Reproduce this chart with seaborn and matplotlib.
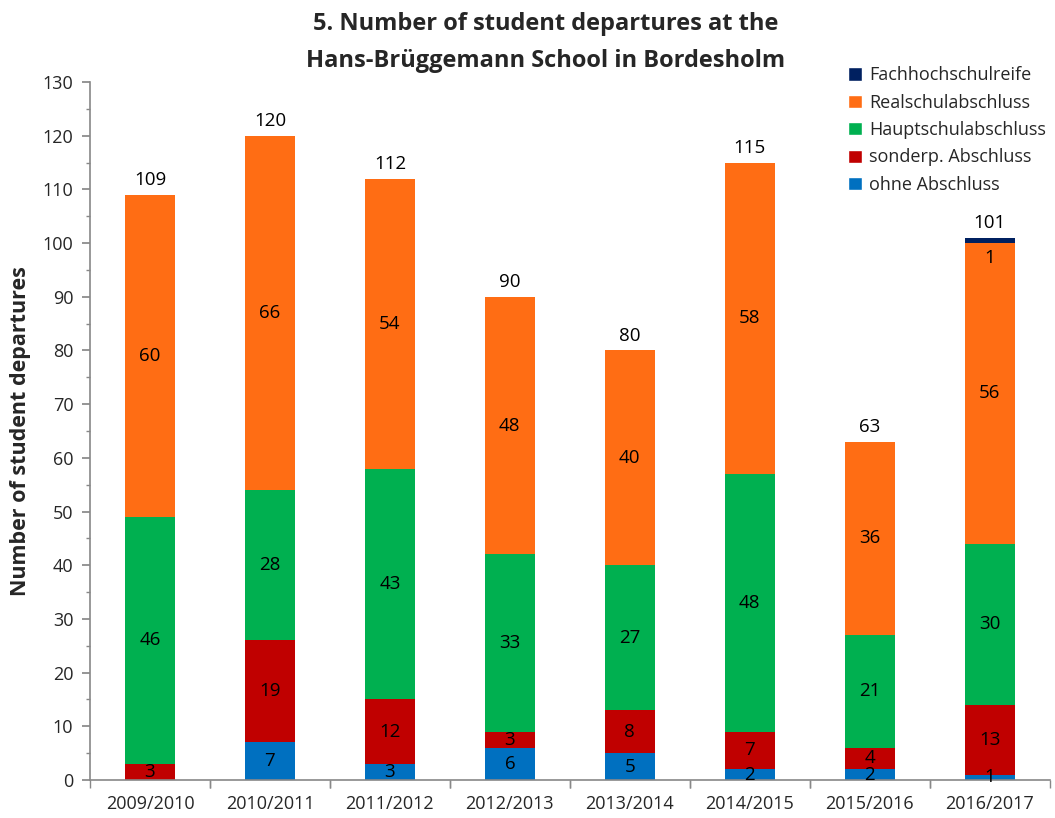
import matplotlib
matplotlib.use("Agg")
import matplotlib.pyplot as plt
import seaborn as sns
import pandas as pd
import numpy as np
from matplotlib.patches import Patch
from matplotlib.ticker import MultipleLocator

years = ["2009/2010", "2010/2011", "2011/2012", "2012/2013",
         "2013/2014", "2014/2015", "2015/2016", "2016/2017"]
ohne = [0, 7, 3, 6, 5, 2, 2, 1]
sonderp = [3, 19, 12, 3, 8, 7, 4, 13]
haupt = [46, 28, 43, 33, 27, 48, 21, 30]
real = [60, 66, 54, 48, 40, 58, 36, 56]
fachhoch = [0, 0, 0, 0, 0, 0, 0, 1]

series_names = ["ohne Abschluss", "sonderp. Abschluss", "Hauptschulabschluss",
                "Realschulabschluss", "Fachhochschulreife"]
series_vals = [ohne, sonderp, haupt, real, fachhoch]
colors = ["#0070C0", "#C00000", "#00B050", "#FF6D14", "#002060"]

sns.set_theme(style="white")
plt.rcParams["font.family"] = ["Open Sans", "DejaVu Sans"]

fig = plt.figure(figsize=(10.55, 8.18), dpi=100)
ax = fig.add_axes([0.0853, 0.0465, 0.9097, 0.8533])

cum = np.cumsum(np.array(series_vals), axis=0)
df = pd.DataFrame({"year": years})
# draw from top layer down so lower layers overlay
for i in range(len(series_names) - 1, -1, -1):
    df["h"] = cum[i]
    sns.barplot(data=df, x="year", y="h", color=colors[i], width=0.42,
                saturation=1, ax=ax, linewidth=0)

# segment labels
for i, vals in enumerate(series_vals):
    for j, v in enumerate(vals):
        if v == 0:
            continue
        bottom = cum[i][j] - v
        yc = bottom + v / 2
        if i == 4:
            yc = cum[i][j] - 3.8
        ax.text(j, yc, str(v), ha="center", va="center", fontsize=13.5, color="black")

totals = cum[-1]
for j, t in enumerate(totals):
    ax.text(j, t + 1.0, str(t), ha="center", va="bottom", fontsize=13.5, color="black")

ax.set_ylim(0, 130)
ax.set_xlim(-0.45, 7.5)
ax.yaxis.set_major_locator(MultipleLocator(10))
ax.yaxis.set_minor_locator(MultipleLocator(5))
ax.tick_params(axis="y", which="major", direction="out", length=6, color="#888888",
               left=True, labelsize=13, pad=6)
ax.tick_params(axis="y", which="minor", direction="out", length=3, color="#888888", left=True)
ax.set_xticks(np.arange(len(years)))
ax.set_xticklabels(years)
ax.tick_params(axis="x", which="major", length=0, labelsize=13, pad=11)
ax.set_xticks(list(np.arange(len(years)) - 0.5) + list(np.arange(len(years)) + 0.5), minor=True)
ax.tick_params(axis="x", which="minor", direction="out", length=6, color="#888888", bottom=True)

for s in ["top", "right"]:
    ax.spines[s].set_visible(False)
for s in ["left", "bottom"]:
    ax.spines[s].set_color("#888888")
    ax.spines[s].set_linewidth(1.2)

ax.set_xlabel("")
ax.set_ylabel("Number of student departures", fontsize=15.5, fontweight="bold", labelpad=8)

fig.text(0.517, 0.985, "5. Number of student departures at the\nHans-Brüggemann School in Bordesholm",
         ha="center", va="top", fontsize=17, fontweight="bold", linespacing=1.7)

handles = [Patch(facecolor=colors[i], label=series_names[i]) for i in range(len(series_names) - 1, -1, -1)]
fig.legend(handles=handles, loc="upper left", bbox_to_anchor=(0.804, 0.919), frameon=False,
           fontsize=13, handlelength=0.75, handleheight=0.75, handletextpad=0.4,
           labelspacing=0.52, borderaxespad=0, borderpad=0)

fig.savefig("out.png", dpi=100)
